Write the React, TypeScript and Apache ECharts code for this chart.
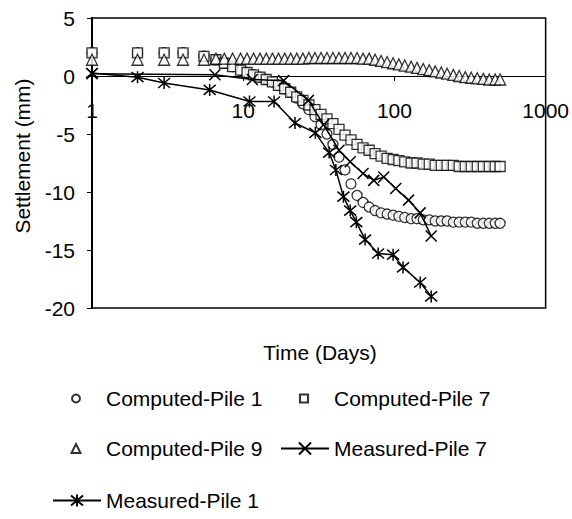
import React, { useEffect, useRef } from 'react';
import * as echarts from 'echarts';

const FONT = "Arial, 'Liberation Sans', Helvetica, sans-serif";

// y-axis tick values
const yTicks = [-20, -15, -10, -5, 0, 5];
// x-axis (log) decades
const xTicks = [1, 10, 100, 1000];

// Computed series share a common time base (days)
const computedTimes = [1, 2, 3, 4, 5.5, 6.6, 7.5, 8.5, 9.6, 10.6, 11.7, 12.9, 14.2, 15.6, 17.1, 18.8, 20.6, 22.6, 24.8, 27.2, 29.8, 32.7, 35.8, 39.2, 43, 47.1, 51.6, 56.6, 62, 68, 74.5, 81.6, 89.4, 98, 107, 117, 129, 141, 155, 170, 186, 204, 223, 245, 268, 294, 322, 353, 387, 424, 464, 500];

const computedPile1 = [2.0, 2.0, 2.0, 2.0, 1.7, 1.4, 1.1, 0.8, 0.5, 0.3, 0.1, -0.1, -0.3, -0.5, -0.8, -1.1, -1.4, -1.9, -2.4, -2.9, -3.5, -4.2, -5.0, -5.9, -7.0, -8.1, -9.3, -10.3, -10.9, -11.3, -11.6, -11.8, -11.9, -12.0, -12.1, -12.2, -12.3, -12.3, -12.4, -12.4, -12.5, -12.5, -12.5, -12.6, -12.6, -12.6, -12.6, -12.7, -12.7, -12.7, -12.7, -12.7];

const computedPile7 = [2.0, 2.0, 2.0, 2.0, 1.7, 1.4, 1.1, 0.8, 0.5, 0.3, 0.1, -0.1, -0.3, -0.5, -0.8, -1.1, -1.4, -1.8, -2.1, -2.5, -2.9, -3.3, -3.7, -4.1, -4.6, -5.1, -5.5, -5.9, -6.2, -6.4, -6.7, -6.9, -7.1, -7.2, -7.3, -7.4, -7.5, -7.5, -7.6, -7.6, -7.7, -7.7, -7.7, -7.7, -7.8, -7.8, -7.8, -7.8, -7.8, -7.8, -7.8, -7.8];

const computedPile9 = [1.4, 1.4, 1.4, 1.4, 1.4, 1.5, 1.5, 1.5, 1.5, 1.5, 1.5, 1.5, 1.5, 1.5, 1.5, 1.5, 1.5, 1.5, 1.5, 1.55, 1.55, 1.55, 1.55, 1.55, 1.55, 1.55, 1.55, 1.55, 1.5, 1.5, 1.4, 1.3, 1.2, 1.1, 1.0, 0.9, 0.8, 0.7, 0.6, 0.5, 0.4, 0.3, 0.2, 0.1, 0.0, -0.1, -0.15, -0.2, -0.25, -0.3, -0.3, -0.3];

const measured7Times = [1, 6.5, 11.5, 18.5, 27, 34, 43, 51, 62, 73, 85, 102, 124, 148, 175];
const measured7 = [0.2, 0.1, -0.3, -0.4, -2.1, -4.2, -6.4, -7.4, -8.4, -9.0, -8.7, -9.7, -10.7, -11.8, -13.8];

const measured1Times = [1, 2, 3, 6, 11, 16, 22, 30, 37, 41, 46, 51, 56, 64, 78, 98, 114, 148, 175];
const measured1 = [0.26, -0.1, -0.6, -1.2, -2.2, -2.2, -4.05, -4.9, -6.6, -8.1, -10.4, -11.6, -12.6, -14.1, -15.3, -15.4, -16.5, -17.8, -19.0];

const names = ['Computed-Pile 1', 'Computed-Pile 7', 'Computed-Pile 9', 'Measured-Pile 7', 'Measured-Pile 1'];

const pairs = (xs: number[], ys: number[]) => xs.map((x, i) => [x, ys[i]]);

const X_PATH = 'path://M0,0L10,10M10,0L0,10';
const STAR_PATH = 'path://M0,0L10,10M10,0L0,10M5,-1L5,11';

const txt = { color: '#000', fontSize: 21, fontFamily: FONT };

function buildOption() {
  const markerStyle = { color: '#fff', borderColor: '#000', borderWidth: 1.3 };
  const R1 = 400, R2 = 450, R3 = 502;
  // legend for a marker-only series: small icon, text pushed right
  const lgMarker = (name: string, iconCenter: number, center: number, size: number) => ({
    data: [name],
    left: iconCenter - size / 2,
    top: center - 12,
    itemWidth: size,
    itemHeight: size,
    padding: 0,
    selectedMode: false,
    textStyle: { ...txt, padding: [0, 0, 0, 30 - size / 2 - 5] },
  });
  const lgLine = (name: string, left: number, center: number) => ({
    data: [name],
    left,
    top: center - 12,
    itemWidth: 48,
    itemHeight: 15,
    padding: 0,
    selectedMode: false,
    textStyle: txt,
  });
  const zeroOffset = -(290 * (yTicks[yTicks.length - 1] / (yTicks[yTicks.length - 1] - yTicks[0])) - 290);
  return {
    animation: false,
    backgroundColor: '#fff',
    grid: {
      left: 92, top: 18, right: 24, bottom: 211,
      show: true, borderColor: '#000', borderWidth: 1.5, backgroundColor: 'transparent',
    },
    xAxis: {
      type: 'log', logBase: 10, min: xTicks[0], max: xTicks[xTicks.length - 1],
      position: 'bottom',
      offset: -zeroOffset,
      axisLine: { onZero: false, lineStyle: { color: '#000', width: 1 } },
      axisTick: { show: true, length: 5, lineStyle: { color: '#000', width: 1 } },
      minorTick: { show: false },
      splitLine: { show: false },
      axisLabel: { ...txt, margin: 24, showMinLabel: true, showMaxLabel: true, formatter: (v: number) => String(v) },
    },
    yAxis: {
      type: 'value', min: yTicks[0], max: yTicks[yTicks.length - 1], interval: 5,
      axisLine: { show: true, onZero: false, lineStyle: { color: '#000', width: 2 } },
      axisTick: { show: true, length: 5, lineStyle: { color: '#000', width: 1 } },
      splitLine: { show: false },
      axisLabel: { ...txt, margin: 17 },
    },
    legend: [
      lgMarker(names[0], 75, R1, 8),
      lgMarker(names[1], 303, R1, 8),
      lgMarker(names[2], 75, R2, 9),
      lgLine(names[3], 280, R2),
      lgLine(names[4], 52, R3),
    ],
    graphic: [
      { type: 'text', x: 320, y: 352, style: { text: 'Time (Days)', fill: '#000', fontSize: 21, fontFamily: FONT, textAlign: 'center', textVerticalAlign: 'middle' } },
      { type: 'text', x: 22, y: 156, rotation: Math.PI / 2, style: { text: 'Settlement (mm)', fill: '#000', fontSize: 21, fontFamily: FONT, textAlign: 'center', textVerticalAlign: 'middle' } },
    ],
    series: [
      { name: names[0], type: 'scatter', data: pairs(computedTimes, computedPile1), symbol: 'circle', symbolSize: 10, itemStyle: markerStyle },
      { name: names[1], type: 'scatter', data: pairs(computedTimes, computedPile7), symbol: 'rect', symbolSize: 10, itemStyle: markerStyle },
      { name: names[2], type: 'scatter', data: pairs(computedTimes, computedPile9), symbol: 'triangle', symbolSize: 11, itemStyle: markerStyle },
      {
        name: names[3], type: 'line', data: pairs(measured7Times, measured7), symbol: X_PATH, symbolSize: 11, showAllSymbol: true,
        lineStyle: { color: '#000', width: 1.5 }, itemStyle: { color: '#fff', borderColor: '#000', borderWidth: 1.5 },
      },
      {
        name: names[4], type: 'line', data: pairs(measured1Times, measured1), symbol: STAR_PATH, symbolSize: 12, showAllSymbol: true,
        lineStyle: { color: '#000', width: 1.5 }, itemStyle: { color: '#fff', borderColor: '#000', borderWidth: 1.5 },
      },
    ],
  };
}

export default function App() {
  const ref = useRef<HTMLDivElement>(null);
  useEffect(() => {
    const chart = echarts.init(ref.current!, null, { renderer: 'svg' });
    chart.setOption(buildOption() as any);
    return () => chart.dispose();
  }, []);
  return <div ref={ref} style={{ position: 'fixed', left: 0, top: 0, width: 572, height: 519, background: '#fff' }} />;
}
